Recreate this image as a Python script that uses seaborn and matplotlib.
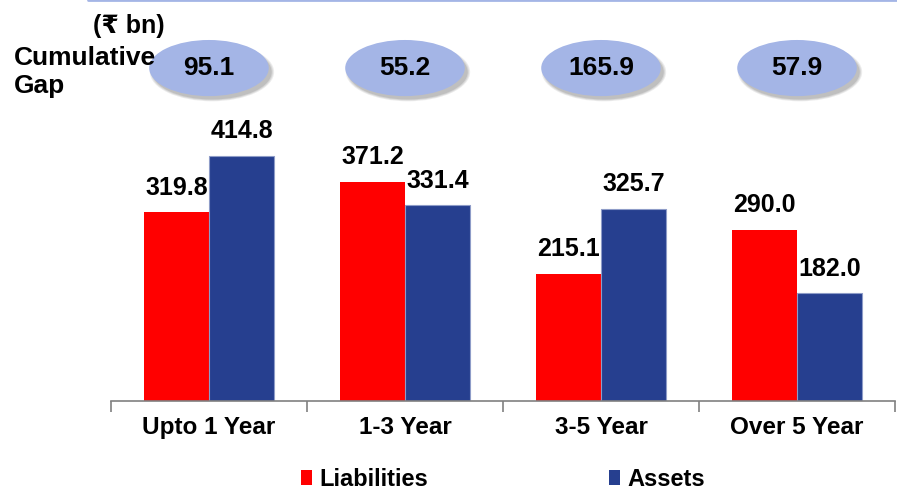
import matplotlib
matplotlib.use("Agg")
import matplotlib.pyplot as plt
import seaborn as sns
import pandas as pd
from matplotlib.patches import Ellipse
from matplotlib.lines import Line2D
import matplotlib.transforms as mtransforms

categories = ["Upto 1 Year", "1-3 Year", "3-5 Year", "Over 5 Year"]
liabilities = [319.8, 371.2, 215.1, 290.0]
assets = [414.8, 331.4, 325.7, 182.0]
cumulative_gap = [95.1, 55.2, 165.9, 57.9]
series_names = ["Liabilities", "Assets"]
colors = {"Liabilities": "#ff0000", "Assets": "#263f8f"}

df = pd.DataFrame({
    "Bucket": categories * 2,
    "Series": [series_names[0]] * 4 + [series_names[1]] * 4,
    "Value": liabilities + assets,
})

sns.set_style("white")
plt.rcParams["font.family"] = ["Liberation Sans", "DejaVu Sans"]
plt.rcParams["font.weight"] = "bold"
plt.rcParams["text.color"] = "black"
plt.rcParams["xtick.color"] = "black"

fig = plt.figure(figsize=(8.97, 4.91), dpi=100)
ax = fig.add_axes([0.1237, 0.1833, 0.8741, 0.6017])

sns.barplot(data=df, x="Bucket", y="Value", hue="Series", order=categories,
            hue_order=series_names, palette=colors, width=0.665, ax=ax,
            legend=False, saturation=1, linewidth=0)

# faint light outline on the asset bars
for bar in ax.containers[1]:
    bar.set_edgecolor("#8e9cc8")
    bar.set_linewidth(0.8)

ax.set_xlim(-0.5, 3.5)
ax.set_ylim(0, 500)
ax.set_xlabel("")
ax.set_ylabel("")
ax.set_yticks([])
for s in ["top", "right", "left"]:
    ax.spines[s].set_visible(False)
ax.spines["bottom"].set_color("#808080")
ax.spines["bottom"].set_linewidth(1.2)
ax.set_xticks(range(len(categories)))
ax.set_xticklabels(categories, fontsize=17.5, fontweight="bold", color="black")
ax.tick_params(axis="x", which="major", length=0, pad=11, bottom=True)
ax.set_xticks([-0.5, 0.5, 1.5, 2.5, 3.5], minor=True)
ax.tick_params(axis="x", which="minor", length=8, width=1.2, color="#808080",
               direction="out", bottom=True)

for cont in ax.containers:
    for bar in cont:
        h = bar.get_height()
        ax.annotate(f"{h:.1f}", (bar.get_x() + bar.get_width() / 2, h),
                    xytext=(0, 9), textcoords="offset points",
                    ha="center", va="bottom", fontsize=18, fontweight="bold",
                    color="black")

# cumulative gap ellipses
trans = mtransforms.blended_transform_factory(ax.transData, ax.transAxes)
off = mtransforms.offset_copy(trans, fig=fig, x=3, y=-4, units="dots")
for i, g in enumerate(cumulative_gap):
    for k, a in enumerate([0.10, 0.12, 0.15]):
        sh = Ellipse((i, 1.127), 0.61 + 0.012 * (2 - k), 0.186 + 0.006 * (2 - k),
                     transform=off, facecolor="#404040", alpha=a, edgecolor="none",
                     clip_on=False, zorder=3)
        ax.add_patch(sh)
    e = Ellipse((i, 1.127), 0.61, 0.19, transform=trans, facecolor="#a4b5e6",
                edgecolor="none", clip_on=False, zorder=4)
    ax.add_patch(e)
    ax.text(i, 1.127, f"{g:.1f}", transform=trans, ha="center", va="center",
            fontsize=19, fontweight="bold", zorder=5, color="black")

fig.text(129 / 897, 1 - 33 / 491, "(₹ bn)", ha="center", va="baseline",
         fontsize=18, fontweight="bold", color="black")
fig.text(14 / 897, 1 - 65 / 491, "Cumulative", ha="left", va="baseline",
         fontsize=19, fontweight="bold", color="black")
fig.text(14 / 897, 1 - 93 / 491, "Gap", ha="left", va="baseline",
         fontsize=19, fontweight="bold", color="black")

fig.add_artist(Line2D([88 / 897, 1.0], [0.999, 0.999], transform=fig.transFigure,
                      color="#a4b5e6", linewidth=2))

handles = [plt.Rectangle((0, 0), 1, 1, facecolor=colors[s], edgecolor="none") for s in series_names]
fig.legend(handles, series_names, loc="center", bbox_to_anchor=(503 / 897, 1 - 479 / 491),
           ncol=2, frameon=False, prop={"size": 17, "weight": "bold"},
           handlelength=0.45, handleheight=0.6, handletextpad=0.3, columnspacing=7.7,
           borderpad=0.1)

fig.savefig("out.png", dpi=100)
